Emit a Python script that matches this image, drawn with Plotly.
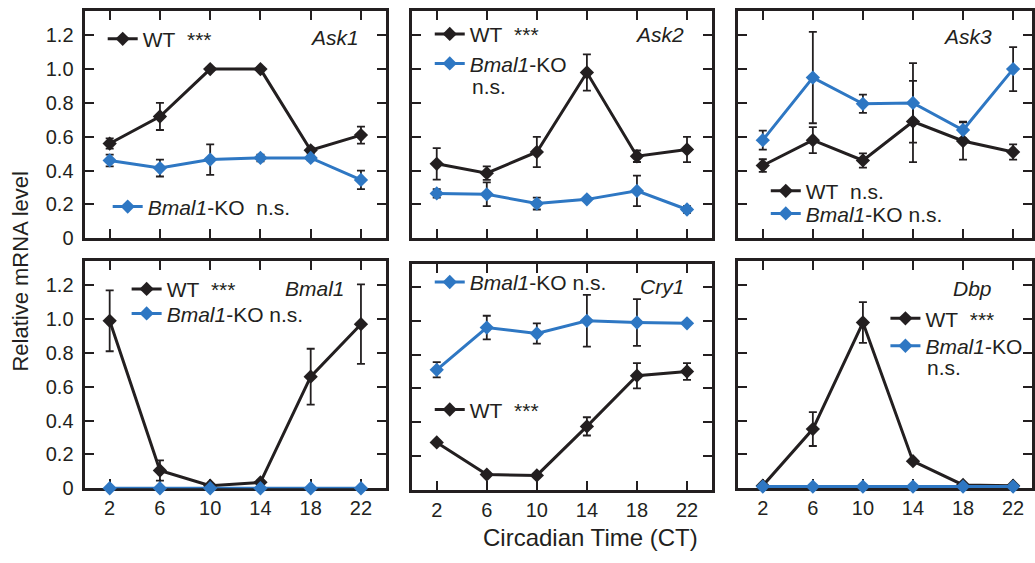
import plotly.graph_objects as go

W, H = 1035, 563

# ---------------- data ----------------
ct = [2, 6, 10, 14, 18, 22]
genes = ["Ask1", "Ask2", "Ask3", "Bmal1", "Cry1", "Dbp"]

ask1_wt = [0.56, 0.72, 1.00, 1.00, 0.52, 0.61]
ask1_wt_err = [0.03, 0.08, 0.01, 0.01, 0.015, 0.05]
ask1_ko = [0.46, 0.415, 0.465, 0.475, 0.475, 0.345]
ask1_ko_err = [0.035, 0.05, 0.09, 0.02, 0.015, 0.055]

ask2_wt = [0.44, 0.385, 0.51, 0.98, 0.485, 0.525]
ask2_wt_err = [0.093, 0.04, 0.09, 0.107, 0.034, 0.075]
ask2_ko = [0.265, 0.26, 0.205, 0.23, 0.28, 0.17]
ask2_ko_err = [0.025, 0.07, 0.035, 0.01, 0.09, 0.02]

ask3_wt = [0.43, 0.58, 0.46, 0.69, 0.575, 0.51]
ask3_wt_err = [0.037, 0.077, 0.042, 0.24, 0.11, 0.045]
ask3_ko = [0.58, 0.95, 0.795, 0.80, 0.64, 1.0]
ask3_ko_err = [0.056, 0.27, 0.054, 0.235, 0.05, 0.13]

bmal1_wt = [0.99, 0.105, 0.015, 0.035, 0.66, 0.97]
bmal1_wt_err = [0.18, 0.06, 0.01, 0.01, 0.165, 0.235]
bmal1_ko = [0.0, 0.0, 0.0, 0.0, 0.0, 0.0]
bmal1_ko_err = [0.0, 0.0, 0.0, 0.0, 0.0, 0.0]

cry1_wt = [0.28, 0.09, 0.085, 0.375, 0.675, 0.70]
cry1_wt_err = [0.01, 0.01, 0.01, 0.054, 0.075, 0.05]
cry1_ko = [0.71, 0.96, 0.925, 1.0, 0.99, 0.985]
cry1_ko_err = [0.045, 0.07, 0.06, 0.153, 0.138, 0.01]

dbp_wt = [0.015, 0.35, 0.98, 0.16, 0.02, 0.015]
dbp_wt_err = [0.005, 0.1, 0.12, 0.01, 0.005, 0.005]
dbp_ko = [0.01, 0.01, 0.01, 0.01, 0.01, 0.01]
dbp_ko_err = [0.0, 0.0, 0.0, 0.0, 0.0, 0.0]

wt_labels = ["WT\u00a0\u00a0***", "WT\u00a0\u00a0***", "WT\u00a0\u00a0n.s.",
             "WT\u00a0\u00a0***", "WT\u00a0\u00a0***", "WT\u00a0\u00a0***"]
ko_labels = ["<i>Bmal1</i>-KO\u00a0\u00a0n.s.", "<i>Bmal1</i>-KO", "<i>Bmal1</i>-KO n.s.",
             "<i>Bmal1</i>-KO n.s.", "<i>Bmal1</i>-KO n.s.", "<i>Bmal1</i>-KO"]

y_tickvals = [0, 0.2, 0.4, 0.6, 0.8, 1.0, 1.2]
y_ticktext = ["0", "0.2", "0.4", "0.6", "0.8", "1.0", "1.2"]

# ---------------- style ----------------
FONT = "Liberation Sans, Arial, Helvetica, sans-serif"
BLACK = "#231f20"
BLUE = "#2e77c3"

series = [
    (ask1_wt, ask1_wt_err, ask1_ko, ask1_ko_err),
    (ask2_wt, ask2_wt_err, ask2_ko, ask2_ko_err),
    (ask3_wt, ask3_wt_err, ask3_ko, ask3_ko_err),
    (bmal1_wt, bmal1_wt_err, bmal1_ko, bmal1_ko_err),
    (cry1_wt, cry1_wt_err, cry1_ko, cry1_ko_err),
    (dbp_wt, dbp_wt_err, dbp_ko, dbp_ko_err),
]

# plot-area boxes in pixels: (left, right, top, bottom)
boxes = [
    (84.8, 387.2, 11.5, 243), (412.9, 714.1, 11.5, 243), (739.9, 1035, 11.5, 243),
    (84.8, 387.2, 266.5, 498), (412.9, 714.1, 269.5, 499.5), (739.9, 1035, 266.5, 498),
]
xranges = [[0, 24], [0, 24], [0, 23.51]] * 2
yranges = [[0, 1.342]] * 4 + [[0, 1.335], [0, 1.342]]

# legend anchor (left px, center y px) for WT and KO
leg_wt = [(103, 40), (431, 35), (768, 195), (127, 295), (431, 418), (888, 325)]
leg_ko = [(108, 211), (431, 65), (768, 218), (127, 320), (431, 288), (888, 353)]

# gene label (right px, center y px)
gene_pos = [(362, 38), (688, 35), (997, 37), (348, 294), (688, 292), (997, 294)]


def px(x):
    return x / W


def py(y):
    return 1 - y / H


fig = go.Figure()
layout = dict(
    width=W, height=H,
    margin=dict(l=0, r=0, t=0, b=0),
    paper_bgcolor="white", plot_bgcolor="white",
    font=dict(family=FONT, size=20, color=BLACK),
    showlegend=True,
)
annotations = []

for i, (wt, wte, ko, koe) in enumerate(series):
    n = i + 1
    xa = "x" if n == 1 else f"x{n}"
    ya = "y" if n == 1 else f"y{n}"
    lg_wt = "legend" if n == 1 else f"legend{2 * n - 1}"
    lg_ko = f"legend{2 * n}"
    fig.add_trace(go.Scatter(
        x=ct, y=wt, mode="lines+markers", name=wt_labels[i],
        xaxis=xa, yaxis=ya, legend=lg_wt, cliponaxis=False,
        line=dict(color=BLACK, width=3),
        marker=dict(symbol="diamond", size=11, color=BLACK),
        error_y=dict(type="data", array=wte, visible=True, color=BLACK,
                     thickness=1.8, width=4),
    ))
    fig.add_trace(go.Scatter(
        x=ct, y=ko, mode="lines+markers", name=ko_labels[i],
        xaxis=xa, yaxis=ya, legend=lg_ko, cliponaxis=False,
        line=dict(color=BLUE, width=3),
        marker=dict(symbol="diamond", size=11, color=BLUE),
        error_y=dict(type="data", array=koe, visible=True, color=BLACK,
                     thickness=1.8, width=4),
    ))
    l, r, t, b = boxes[i]
    col = i % 3
    row = i // 3
    axis_common = dict(
        showline=True, linewidth=3, linecolor=BLACK, mirror="allticks",
        ticks="inside", ticklen=9, tickwidth=2, tickcolor=BLACK,
        showgrid=False, zeroline=False, layer="below traces",
        tickfont=dict(family=FONT, size=20, color=BLACK),
    )
    layout["xaxis" if n == 1 else f"xaxis{n}"] = dict(
        axis_common, domain=[px(l), min(1.0, px(r))], range=xranges[i], anchor=ya,
        tickvals=ct, ticktext=[str(v) for v in ct],
        showticklabels=(row == 1), ticklabelstandoff=0,
    )
    layout["yaxis" if n == 1 else f"yaxis{n}"] = dict(
        axis_common, domain=[py(b), py(t)], range=yranges[i], anchor=xa,
        tickvals=y_tickvals, ticktext=y_ticktext,
        showticklabels=(col == 0), ticklabelstandoff=4,
    )
    for key, (lx, ly) in ((lg_wt, leg_wt[i]), (lg_ko, leg_ko[i])):
        layout[key] = dict(
            x=px(lx), y=py(ly), xanchor="left", yanchor="middle",
            xref="paper", yref="paper",
            bgcolor="rgba(0,0,0,0)", borderwidth=0,
            font=dict(family=FONT, size=21, color=BLACK),
            itemwidth=30,
        )
    gx, gy = gene_pos[i]
    annotations.append(dict(
        text=f"<i>{genes[i]}</i>", x=px(gx), y=py(gy), xref="paper", yref="paper",
        xanchor="right", yanchor="middle", showarrow=False,
        font=dict(family=FONT, size=21, color=BLACK),
    ))

# extra "n.s." lines under wrapped legend entries
for (nx, ny) in [(471, 88), (928, 375)]:
    annotations.append(dict(
        text="n.s.", x=px(nx), y=py(ny), xref="paper", yref="paper",
        xanchor="left", yanchor="middle", showarrow=False,
        font=dict(family=FONT, size=21, color=BLACK),
    ))

annotations.append(dict(
    text="Relative mRNA level", x=px(21), y=py(276), xref="paper", yref="paper",
    xanchor="center", yanchor="middle", showarrow=False, textangle=-90,
    font=dict(family=FONT, size=22, color=BLACK),
))
annotations.append(dict(
    text="Circadian Time (CT)", x=px(592), y=py(548), xref="paper", yref="paper",
    xanchor="center", yanchor="middle", showarrow=False,
    font=dict(family=FONT, size=24, color=BLACK),
))
layout["annotations"] = annotations

fig.update_layout(**layout)
fig.write_html(
    "out.html",
    config={"displayModeBar": False},
    post_script="document.body.style.margin='0';document.body.style.overflow='hidden';",
)
